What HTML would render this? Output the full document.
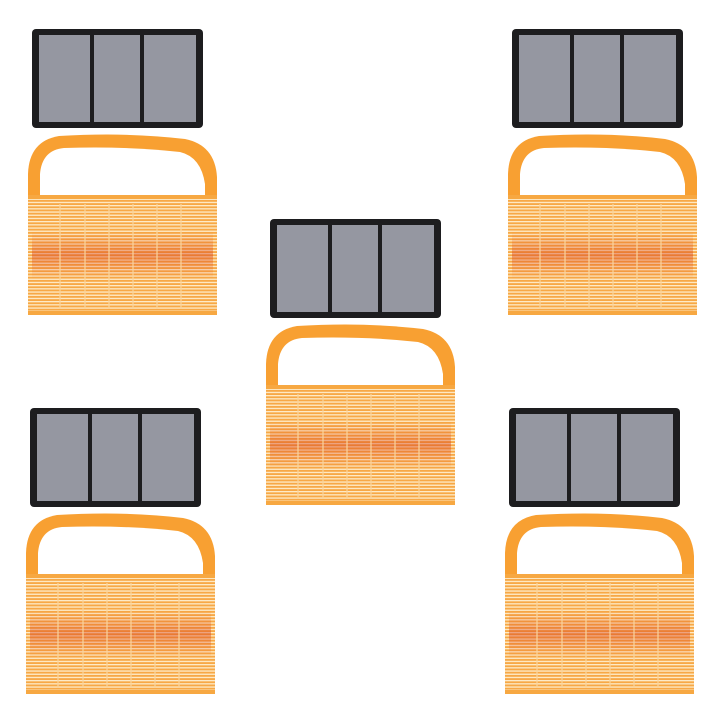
<!DOCTYPE html>
<html><head><style>html,body{margin:0;padding:0;background:#fff;width:720px;height:720px;overflow:hidden}</style></head>
<body>
<svg width="720" height="720" viewBox="0 0 720 720" xmlns="http://www.w3.org/2000/svg">
<defs>
<pattern id="hl" width="4" height="3.2" patternUnits="userSpaceOnUse">
<rect width="4" height="3.2" fill="#f7a846"/>
<rect y="0" width="4" height="1.3" fill="#feebc8"/>
</pattern>
<linearGradient id="band" x1="0" y1="0" x2="0" y2="1">
<stop offset="0" stop-color="#e8561e" stop-opacity="0"/>
<stop offset="0.3" stop-color="#e2501c" stop-opacity="0"/>
<stop offset="0.5" stop-color="#d8401a" stop-opacity="0.45"/>
<stop offset="0.7" stop-color="#e2501c" stop-opacity="0"/>
<stop offset="1" stop-color="#e8561e" stop-opacity="0"/>
</linearGradient>
<g id="set">
<rect x="5" y="0" width="171" height="99" rx="4" fill="#1d1d1f"/>
<rect x="12" y="6" width="51" height="87" fill="#9597a1"/>
<rect x="67" y="6" width="46" height="87" fill="#9597a1"/>
<rect x="117" y="6" width="52" height="87" fill="#9597a1"/>
<path d="M1,170 L1,145 Q2,112 32,107 Q100,103 158,110 Q188,116 190,148 L190,170 Z" fill="#f8a032"/>
<path d="M13,170 L13,145 Q15,121 37,119 Q100,117 153,123 Q174,128 178,155 L178,170 Z" fill="#fff"/>
<rect x="1" y="166" width="189" height="120" fill="url(#hl)"/>
<rect x="5" y="166" width="181" height="120" fill="url(#band)"/>
<g stroke="#fbd59a" stroke-width="1.5" opacity="0.8">
<line x1="33" y1="175" x2="33" y2="280"/><line x1="58" y1="175" x2="58" y2="280"/>
<line x1="82" y1="175" x2="82" y2="280"/><line x1="106" y1="175" x2="106" y2="280"/>
<line x1="130" y1="175" x2="130" y2="280"/><line x1="154" y1="175" x2="154" y2="280"/>
</g>
<rect x="1" y="166" width="189" height="4" fill="#f7a842"/>
<rect x="1" y="282" width="189" height="4" fill="#f7a842"/>
</g>
</defs>
<use href="#set" x="27" y="29"/>
<use href="#set" x="507" y="29"/>
<use href="#set" x="265" y="219"/>
<use href="#set" x="25" y="408"/>
<use href="#set" x="504" y="408"/>
</svg>
</body></html>
